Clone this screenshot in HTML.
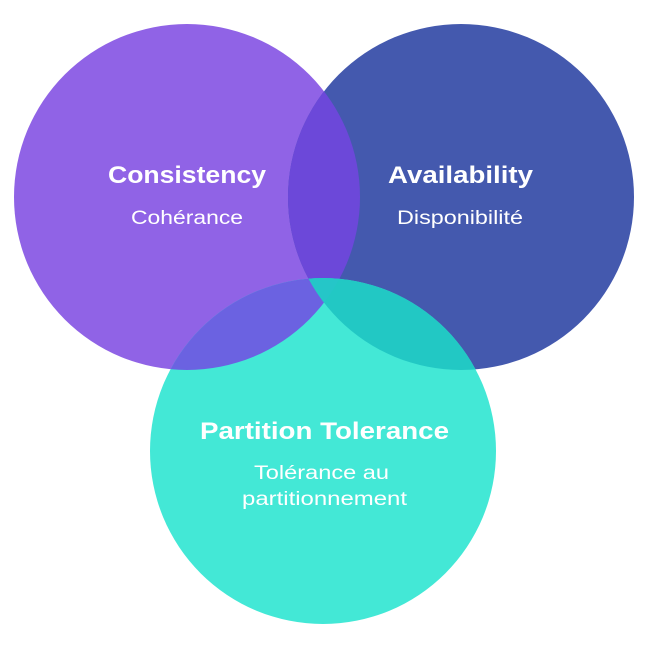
<!DOCTYPE html>
<html><head><meta charset="utf-8"><style>
html,body{margin:0;padding:0;background:#fff}
svg{display:block}
text{font-family:"Liberation Sans",sans-serif;fill:#fff}
.t{font-weight:bold;font-size:24px}
.s{font-size:19px}
</style></head><body>
<svg width="648" height="648" viewBox="0 0 648 648">
<defs>
<clipPath id="cp"><circle cx="187" cy="197" r="173"/></clipPath>
<clipPath id="cb"><circle cx="461" cy="197" r="173"/></clipPath>
</defs>
<circle cx="187" cy="197" r="173" fill="#9063e6"/>
<circle cx="461" cy="197" r="173" fill="#4459ae"/>
<circle cx="323" cy="451" r="173" fill="#43e8d6"/>
<g clip-path="url(#cp)"><circle cx="461" cy="197" r="173" fill="#6c48d9"/></g>
<g clip-path="url(#cp)"><circle cx="323" cy="451" r="173" fill="#6b62e1"/></g>
<g clip-path="url(#cb)"><circle cx="323" cy="451" r="173" fill="#22c8c4"/></g>
<g clip-path="url(#cp)"><g clip-path="url(#cb)"><circle cx="323" cy="451" r="173" fill="#25c6c8"/></g></g>
<text class="t" x="108" y="183" textLength="158" lengthAdjust="spacingAndGlyphs">Consistency</text>
<text class="s" x="131" y="224" textLength="112" lengthAdjust="spacingAndGlyphs">Cohérance</text>
<text class="t" x="388" y="183" textLength="145" lengthAdjust="spacingAndGlyphs">Availability</text>
<text class="s" x="397" y="224" textLength="126" lengthAdjust="spacingAndGlyphs">Disponibilité</text>
<text class="t" x="200" y="439" textLength="249" lengthAdjust="spacingAndGlyphs">Partition Tolerance</text>
<text class="s" x="254" y="479" textLength="135" lengthAdjust="spacingAndGlyphs">Tolérance au</text>
<text class="s" x="242" y="505" textLength="165" lengthAdjust="spacingAndGlyphs">partitionnement</text>
</svg>
</body></html>
